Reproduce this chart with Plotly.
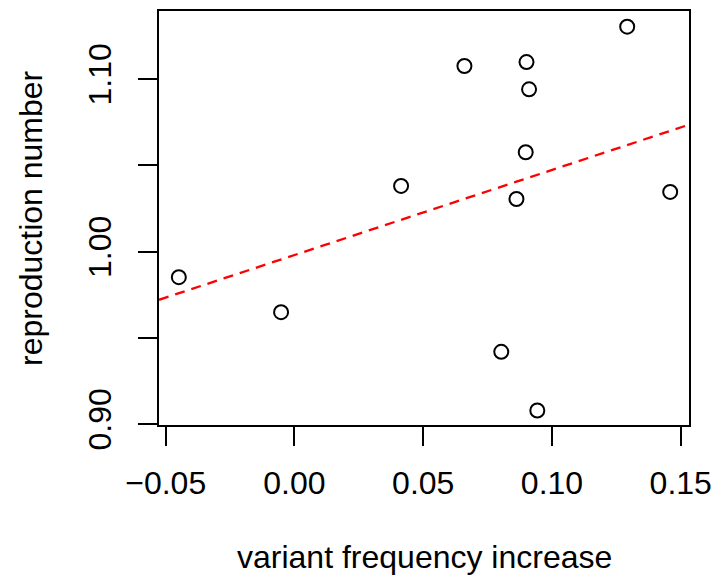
import numpy as np
import plotly.graph_objects as go

# Data
variant_freq_increase = [0.1292, 0.0660, 0.0901, 0.0911, 0.0898, 0.0862, 0.1459,
                         0.0803, 0.0943, -0.0449, -0.0052, 0.0414]
reproduction_number = [1.1304, 1.1076, 1.1099, 1.0941, 1.0576, 1.0305, 1.0346,
                       0.9419, 0.9079, 0.9852, 0.9649, 1.0381]

x_tickvals = [-0.05, 0.00, 0.05, 0.10, 0.15]
x_ticktext = ["\u22120.05", "0.00", "0.05", "0.10", "0.15"]
y_tickvals = [0.90, 0.95, 1.00, 1.05, 1.10]
y_ticktext = ["0.90", "", "1.00", "", "1.10"]

x_range = [-0.0526, 0.1532]
y_range = [0.8995, 1.1395]

# OLS regression line
slope, intercept = np.polyfit(variant_freq_increase, reproduction_number, 1)
line_x = np.array(x_range)
line_y = intercept + slope * line_x

FONT = "Liberation Sans, Arial, Helvetica, sans-serif"
FS = 32

fig = go.Figure()
fig.add_trace(go.Scatter(
    x=line_x, y=line_y, mode="lines",
    line=dict(color="#FF0000", width=2.3, dash="10px,7px"),
    hoverinfo="skip", showlegend=False,
))
fig.add_trace(go.Scatter(
    x=variant_freq_increase, y=reproduction_number, mode="markers",
    marker=dict(symbol="circle-open", size=14, color="black",
                line=dict(color="black", width=2)),
    showlegend=False,
))

fig.update_layout(
    width=716, height=581,
    margin=dict(l=159, r=27, t=11, b=156, autoexpand=False),
    plot_bgcolor="white", paper_bgcolor="white",
    font=dict(family=FONT, size=FS, color="black"),
    xaxis=dict(range=x_range, tickvals=x_tickvals, ticktext=x_ticktext,
               automargin=False,
               showgrid=False, zeroline=False, showline=True, mirror=True,
               linecolor="black", linewidth=2, ticks="outside", ticklen=19,
               tickwidth=2, tickcolor="black", ticklabelstandoff=10,
               tickfont=dict(family=FONT, size=FS, color="black")),
    yaxis=dict(range=y_range, tickvals=y_tickvals, ticktext=y_ticktext,
               automargin=False,
               showgrid=False, zeroline=False, showline=True, mirror=True,
               linecolor="black", linewidth=2, ticks="outside", ticklen=19,
               tickwidth=2, tickcolor="black", tickangle=-90,
               ticklabelstandoff=14,
               tickfont=dict(family=FONT, size=FS, color="black")),
    annotations=[
        dict(text="variant frequency increase", xref="paper", yref="paper",
             x=0.5, y=0, xanchor="center", yanchor="middle", yshift=-132,
             showarrow=False, font=dict(family=FONT, size=FS, color="black")),
        dict(text="reproduction number", xref="paper", yref="paper",
             x=0, y=0.5, xanchor="center", yanchor="middle", xshift=-128,
             textangle=-90, showarrow=False,
             font=dict(family=FONT, size=FS, color="black")),
    ],
)

fig.write_html(
    "out.html",
    config={"displayModeBar": False},
    post_script="document.body.style.margin='0';document.body.style.overflow='hidden';"
                "document.documentElement.style.overflow='hidden';",
)
